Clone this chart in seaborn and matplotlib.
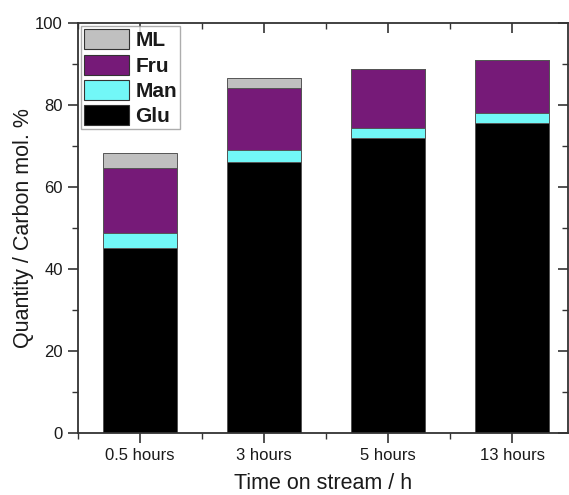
import matplotlib
matplotlib.use("Agg")
import matplotlib.pyplot as plt
from matplotlib.patches import Patch
from matplotlib.ticker import FixedLocator, MultipleLocator
import numpy as np
import pandas as pd
import seaborn as sns

# Product distribution (carbon mol. %) at each time on stream
times = ["0.5 hours", "3 hours", "5 hours", "13 hours"]
glu = [45.2, 66.1, 71.9, 75.7]
man = [3.7, 2.9, 2.4, 2.4]
fru = [15.7, 15.1, 14.5, 12.9]
ml = [3.6, 2.6, 0.0, 0.0]

series_names = ["Glu", "Man", "Fru", "ML"]
series_colors = {"Glu": "#000000", "Man": "#72f7f7", "Fru": "#761a78", "ML": "#c0c0c0"}

sns.set_theme(style="ticks")
plt.rcParams["font.family"] = ["Liberation Sans", "DejaVu Sans"]
ink = "#1a1a1a"
plt.rcParams.update({"text.color": ink, "axes.labelcolor": ink,
                     "xtick.color": ink, "ytick.color": ink})

# cumulative tops for stacking
df = pd.DataFrame({"time": times, "Glu": glu, "Man": man, "Fru": fru, "ML": ml})
cum = df[series_names].cumsum(axis=1)
cum["time"] = df["time"]

fig = plt.figure(figsize=(5.69, 4.95), dpi=100)
ax = fig.add_axes([0.137, 0.1253, 0.861, 0.8282])

# draw from the tallest stack level down so each layer shows its own segment
for name in reversed(series_names):
    sns.barplot(data=cum, x="time", y=name, order=times, color=series_colors[name],
                saturation=1, width=0.6, edgecolor="#555555", linewidth=0.7, ax=ax)

ax.set_xlim(-0.5, 3.45)
ax.set_ylim(0, 100)
ax.yaxis.set_major_locator(MultipleLocator(20))
ax.yaxis.set_minor_locator(MultipleLocator(10))
ax.xaxis.set_minor_locator(FixedLocator([-0.5, 0.5, 1.5, 2.5]))

ax.set_xlabel("Time on stream / h", fontsize=15.5, labelpad=7)
ax.set_ylabel("Quantity / Carbon mol. %", fontsize=15.5, labelpad=1)

for side in ["left", "bottom", "top", "right"]:
    ax.spines[side].set_visible(True)
    ax.spines[side].set_color("#333333")
    ax.spines[side].set_linewidth(1.3)

ax.tick_params(axis="both", which="major", labelsize=12, length=7, width=1.2,
               color="#333333", direction="out", pad=4)
ax.tick_params(axis="both", which="minor", length=4, width=1.0, color="#333333",
               direction="out")
ax.tick_params(axis="x", which="both", top=True, labeltop=False)
ax.tick_params(axis="y", which="both", right=True, labelright=False)

# mirrored ticks on top/right point inward
for t in ax.xaxis.get_major_ticks() + ax.xaxis.get_minor_ticks():
    t.tick2line.set_marker(3)
for t in ax.yaxis.get_major_ticks() + ax.yaxis.get_minor_ticks():
    t.tick2line.set_marker(0)

handles = [Patch(facecolor=series_colors[n], edgecolor="#333333", linewidth=0.8)
           for n in ["ML", "Fru", "Man", "Glu"]]
leg = ax.legend(handles, ["ML", "Fru", "Man", "Glu"], loc="upper left",
                prop={"weight": "bold", "size": 15}, frameon=True, fancybox=False,
                handlelength=2.15, handleheight=1.1, labelspacing=0.2,
                handletextpad=0.3, borderpad=0.15, borderaxespad=0.15)
leg.get_frame().set_edgecolor("#999999")
leg.get_frame().set_linewidth(1.0)

fig.savefig("out.png", dpi=100)
